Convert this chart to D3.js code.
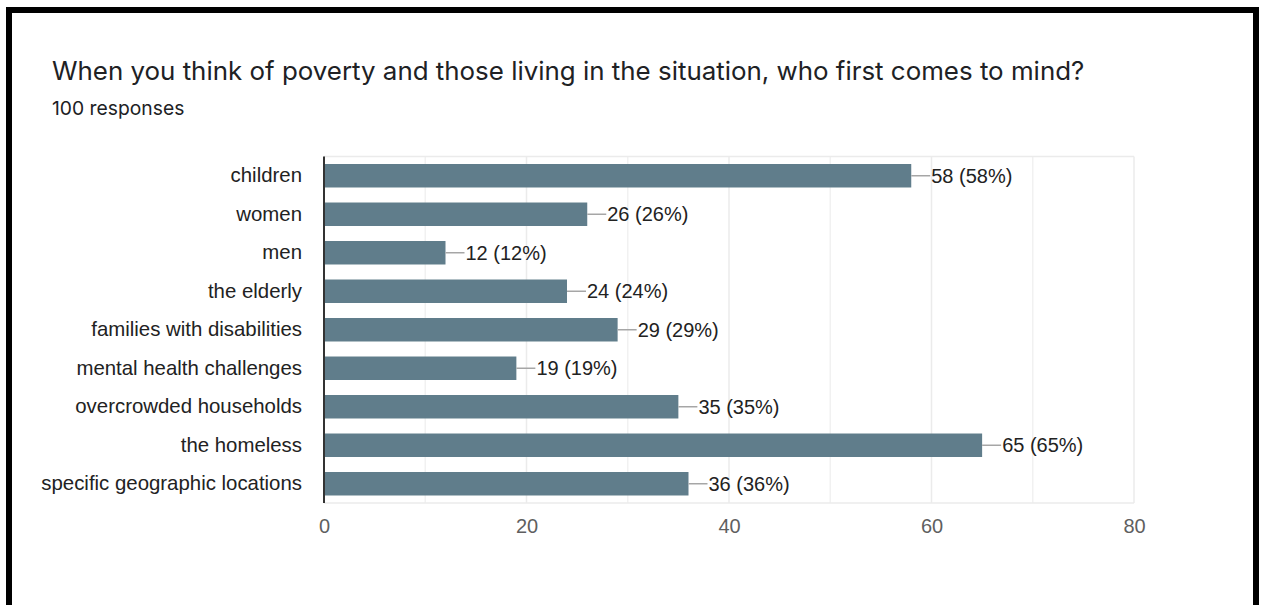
<!DOCTYPE html>
<html>
<head>
<meta charset="utf-8">
<script src="https://cdn.jsdelivr.net/npm/d3@7"></script>
<style>
  html, body { margin: 0; padding: 0; background: #fff; }
  svg { display: block; }
</style>
</head>
<body>
<svg id="chart" width="1264" height="605"></svg>
<script>
// Survey question and answers
const title = "When you think of poverty and those living in the situation, who first comes to mind?";
const totalResponses = 100;
const categories = [
  "children",
  "women",
  "men",
  "the elderly",
  "families with disabilities",
  "mental health challenges",
  "overcrowded households",
  "the homeless",
  "specific geographic locations"
];
const counts = [58, 26, 12, 24, 29, 19, 35, 65, 36];
const xTicks = [0, 20, 40, 60, 80];
const xMinorTicks = [10, 30, 50, 70];

const svg = d3.select("#chart");
const sansUI = "Inter, Roboto, 'Liberation Sans', Arial, sans-serif";
const sansChart = "'Liberation Sans', Arial, sans-serif";

// Card frame
svg.append("rect")
  .attr("x", 9).attr("y", 10)
  .attr("width", 1247).attr("height", 700)
  .attr("fill", "#fff")
  .attr("stroke", "#000")
  .attr("stroke-width", 6);

// Heading
svg.append("text")
  .attr("x", 52).attr("y", 80)
  .attr("font-family", sansUI)
  .attr("font-size", 25.9)
  .attr("fill", "#202124")
  .text(title);

svg.append("text")
  .attr("x", 52).attr("y", 115)
  .attr("font-family", sansUI)
  .attr("font-size", 19.3)
  .attr("fill", "#202124")
  .text(`${totalResponses} responses`);

// Plot area
const plot = { left: 324, right: 1134, top: 156.5, bottom: 503 };

const x = d3.scaleLinear()
  .domain([0, 80])
  .range([plot.left, plot.right]);

const y = d3.scaleBand()
  .domain(categories)
  .range([plot.top, plot.bottom])
  .paddingInner(0.39)
  .paddingOuter(0.195);

const g = svg.append("g");

// Minor gridlines
g.selectAll("line.minor")
  .data(xMinorTicks)
  .join("line")
  .attr("class", "minor")
  .attr("x1", d => x(d)).attr("x2", d => x(d))
  .attr("y1", plot.top).attr("y2", plot.bottom)
  .attr("stroke", "#f1f1f1")
  .attr("stroke-width", 1.5);

// Major gridlines
g.selectAll("line.major")
  .data(xTicks.filter(d => d > 0))
  .join("line")
  .attr("class", "major")
  .attr("x1", d => x(d)).attr("x2", d => x(d))
  .attr("y1", plot.top).attr("y2", plot.bottom)
  .attr("stroke", "#ebebeb")
  .attr("stroke-width", 1.5);

// Plot outline (top and bottom)
g.append("line")
  .attr("x1", plot.left).attr("x2", plot.right)
  .attr("y1", plot.top).attr("y2", plot.top)
  .attr("stroke", "#ebebeb").attr("stroke-width", 1.5);
g.append("line")
  .attr("x1", plot.left).attr("x2", plot.right)
  .attr("y1", plot.bottom).attr("y2", plot.bottom)
  .attr("stroke", "#ebebeb").attr("stroke-width", 1.5);

// Bars
const rows = categories.map((c, i) => ({ cat: c, n: counts[i] }));

g.selectAll("rect.bar")
  .data(rows)
  .join("rect")
  .attr("class", "bar")
  .attr("x", x(0))
  .attr("y", d => y(d.cat))
  .attr("width", d => x(d.n) - x(0))
  .attr("height", y.bandwidth())
  .attr("fill", "#607d8b");

// Leader lines and value labels
const leader = 19;
g.selectAll("line.leader")
  .data(rows)
  .join("line")
  .attr("class", "leader")
  .attr("x1", d => x(d.n)).attr("x2", d => x(d.n) + leader)
  .attr("y1", d => y(d.cat) + y.bandwidth() / 2)
  .attr("y2", d => y(d.cat) + y.bandwidth() / 2)
  .attr("stroke", "#a6a6a6")
  .attr("stroke-width", 1.5);

g.selectAll("text.value")
  .data(rows)
  .join("text")
  .attr("class", "value")
  .attr("x", d => x(d.n) + leader + 1)
  .attr("y", d => y(d.cat) + y.bandwidth() / 2)
  .attr("dy", "0.36em")
  .attr("font-family", sansChart)
  .attr("font-size", 20)
  .attr("fill", "#222")
  .text(d => `${d.n} (${Math.round(d.n / totalResponses * 100)}%)`);

// Category axis
const yAxis = g.append("g")
  .attr("transform", `translate(${plot.left},0)`)
  .call(d3.axisLeft(y).tickSize(0).tickPadding(22));
yAxis.select(".domain").remove();
yAxis.selectAll("text")
  .attr("font-family", sansChart)
  .attr("font-size", 20.4)
  .attr("fill", "#222");

// Zero baseline
g.append("line")
  .attr("x1", x(0)).attr("x2", x(0))
  .attr("y1", plot.top).attr("y2", plot.bottom)
  .attr("stroke", "#333")
  .attr("stroke-width", 2);

// Value axis
const xAxis = g.append("g")
  .attr("transform", `translate(0,${plot.bottom})`)
  .call(d3.axisBottom(x).tickValues(xTicks).tickSize(0).tickPadding(16));
xAxis.select(".domain").remove();
xAxis.selectAll("text")
  .attr("font-family", sansChart)
  .attr("font-size", 20)
  .attr("fill", "#5f5f5f");
</script>
</body>
</html>
